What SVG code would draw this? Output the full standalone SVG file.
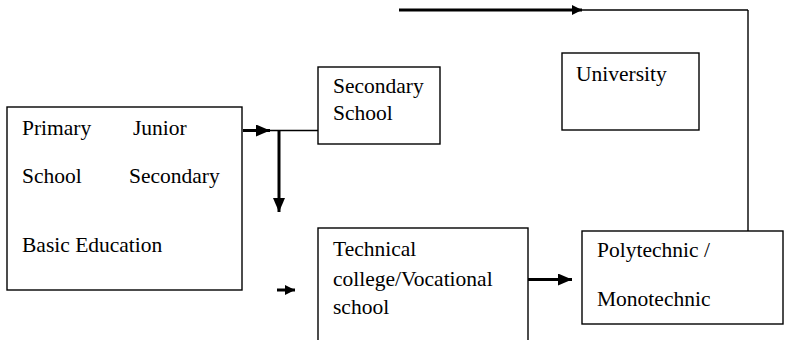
<svg xmlns="http://www.w3.org/2000/svg" width="786" height="340" viewBox="0 0 786 340">
<style>
.box{fill:#fff;stroke:#000;stroke-width:1.4}
.t{font-family:"Liberation Serif","Times New Roman",serif;font-size:21.5px;fill:#000}
.thin{stroke:#000;stroke-width:1.4;fill:none}
.thick{stroke:#000;stroke-width:3;fill:none}
</style>
<defs>
<marker id="ah" markerWidth="10" markerHeight="10" viewBox="0 0 10 10" refX="10" refY="5" orient="auto" markerUnits="userSpaceOnUse">
<path d="M0,0 L10,5 L0,10 Z" fill="#000"/>
</marker>
<marker id="ahb" markerWidth="14" markerHeight="12" viewBox="0 0 14 12" refX="14" refY="6" orient="auto" markerUnits="userSpaceOnUse">
<path d="M0,0 L14,6 L0,12 Z" fill="#000"/>
</marker>
</defs>
<rect width="786" height="340" fill="#fff"/>
<g id="connectors">
<line class="thin" x1="575" y1="10" x2="748" y2="10"/>
<line class="thin" x1="748" y1="10" x2="748" y2="231"/>
<line class="thick" x1="399" y1="10" x2="582" y2="10" marker-end="url(#ah)"/>
<line class="thin" x1="265" y1="130.5" x2="318" y2="130.5"/>
<line class="thick" x1="243" y1="130.5" x2="270" y2="130.5" marker-end="url(#ahb)"/>
<line class="thick" x1="279" y1="130" x2="279" y2="212" marker-end="url(#ahb)"/>
<line class="thick" x1="277" y1="290" x2="295" y2="290" marker-end="url(#ah)"/>
<line class="thick" x1="528" y1="279.5" x2="572" y2="279.5" marker-end="url(#ahb)"/>
</g>
<g id="basic">
<rect class="box" x="7" y="107" width="235" height="183"/>
<text class="t" x="22" y="135">Primary</text>
<text class="t" x="133" y="135">Junior</text>
<text class="t" x="22" y="183">School</text>
<text class="t" x="129" y="183">Secondary</text>
<text class="t" x="22" y="252">Basic Education</text>
</g>
<g id="secondary">
<rect class="box" x="318" y="67" width="122" height="77"/>
<text class="t" x="333" y="93">Secondary</text>
<text class="t" x="333" y="120">School</text>
</g>
<g id="university">
<rect class="box" x="562" y="53" width="137" height="77"/>
<text class="t" x="576" y="81">University</text>
</g>
<g id="technical">
<rect class="box" x="318" y="228" width="210" height="130"/>
<text class="t" x="333" y="256">Technical</text>
<text class="t" x="333" y="286">college/Vocational</text>
<text class="t" x="333" y="314">school</text>
</g>
<g id="polytechnic">
<rect class="box" x="582" y="231" width="201" height="93"/>
<text class="t" x="597" y="257">Polytechnic /</text>
<text class="t" x="597" y="306">Monotechnic</text>
</g>
</svg>
